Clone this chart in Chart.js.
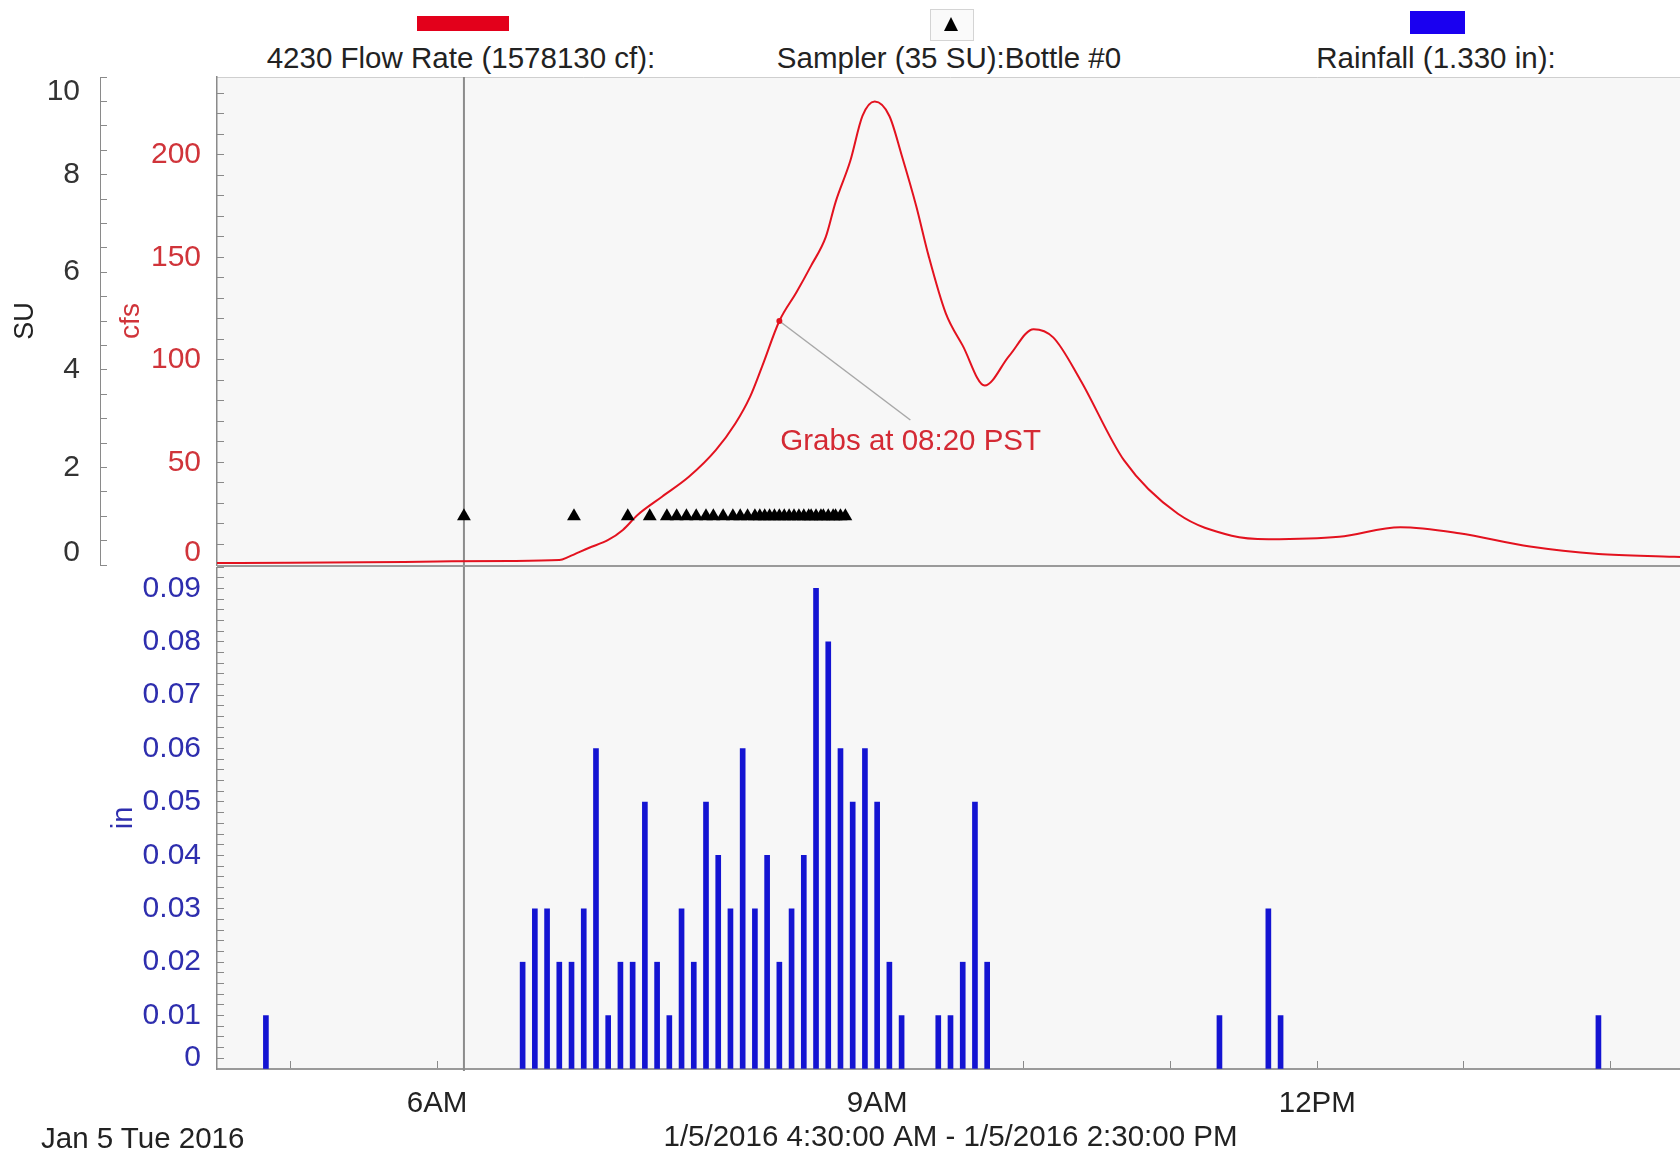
<!DOCTYPE html>
<html>
<head>
<meta charset="utf-8">
<script src="https://cdn.jsdelivr.net/npm/chart.js@4.4.1/dist/chart.umd.min.js"></script>
<style>
  html, body { margin:0; padding:0; background:#fff; width:1680px; height:1160px; overflow:hidden; }
  #wrap { position:relative; width:1680px; height:1160px; overflow:hidden; font-family:"Liberation Sans", Arial, Helvetica, sans-serif; color:#222; }
  canvas { position:absolute; left:0; }
  #topChart { top:0; }
  #botChart { top:567px; }
  .lgText { position:absolute; width:600px; text-align:center; font-size:29.5px; line-height:34px; top:41px; white-space:nowrap; }
  .swatch { position:absolute; }
  #dateLbl { position:absolute; left:41px; top:1121px; font-size:29.5px; line-height:34px; white-space:nowrap; }
  #sampBox { position:absolute; left:930px; top:9px; width:42px; height:30px; border:1px solid #d4d4d4; background:#fafafa; }
  #sampTri { position:absolute; left:13px; top:7px; width:0; height:0; border-left:7px solid transparent; border-right:7px solid transparent; border-bottom:14px solid #000; }
</style>
</head>
<body>
<div id="wrap">
  <div class="swatch" style="left:417px;top:16px;width:92px;height:15px;background:#e3001b;"></div>
  <div id="sampBox"><div id="sampTri"></div></div>
  <div class="swatch" style="left:1410px;top:11px;width:55px;height:23px;background:#1a00f0;"></div>
  <div class="lgText" id="lg0" style="left:161px;"></div>
  <div class="lgText" id="lg1" style="left:649px;"></div>
  <div class="lgText" id="lg2" style="left:1136px;"></div>
  <canvas id="topChart" width="1684" height="567"></canvas>
  <canvas id="botChart" width="1684" height="593"></canvas>
  <div id="dateLbl"></div>
</div>
<script>
// ---------------- data ----------------
const flowTimes = ['04:30','05:00','05:30','06:00','06:30','06:50','06:54','07:02','07:10','07:16',
                   '07:22','07:32','07:43','07:54','08:02','08:08','08:13','08:20','08:27','08:33',
                   '08:39','08:43','08:49','08:54','08:59','09:05','09:10','09:16','09:21','09:28',
                   '09:35','09:44','09:54','10:04','10:12','10:23','10:41','11:03','11:25','11:40',
                   '12:09','12:34','12:58','13:27','13:55','14:26','14:30'];
const flowCfs   = [1.0, 1.1, 1.3, 1.7, 2.0, 2.4, 4.1, 8.3, 12.2, 17.1,
                   24.4, 33.3, 43, 56, 69, 82, 97, 119, 133, 146,
                   160, 177, 197, 219, 226, 219, 200, 175, 151, 123,
                   107, 87.5, 102, 115, 111, 90.5, 51, 25, 14.3, 12.6,
                   13.8, 18.4, 15.5, 9, 5.4, 4, 3.8];

const sampleTimes = ['06:11','06:56','07:18','07:27','07:34','07:38','07:42','07:46','07:50','07:53',
                     '07:57','08:01','08:04','08:07','08:10','08:12','08:14','08:16','08:18','08:20',
                     '08:22','08:24','08:26','08:28','08:30','08:32','08:33','08:35','08:37','08:38',
                     '08:40','08:42','08:43','08:45','08:47'];
const sampleSU = [1,1,1,1,1,1,1,1,1,1, 1,1,1,1,1,1,1,1,1,1, 1,1,1,1,1,1,1,1,1,1, 1,1,1,1,1];

const rainTimes = ['04:50','06:35','06:40','06:45','06:50','06:55','07:00','07:05','07:10','07:15',
                   '07:20','07:25','07:30','07:35','07:40','07:45','07:50','07:55','08:00','08:05',
                   '08:10','08:15','08:20','08:25','08:30','08:35','08:40','08:45','08:50','08:55',
                   '09:00','09:05','09:10','09:25','09:30','09:35','09:40','09:45','11:20','11:40',
                   '11:45','13:55'];
const rainIn = [0.01,0.02,0.03,0.03,0.02,0.02,0.03,0.06,0.01,0.02,
                0.02,0.05,0.02,0.01,0.03,0.02,0.05,0.04,0.03,0.06,
                0.03,0.04,0.02,0.03,0.04,0.09,0.08,0.06,0.05,0.06,
                0.05,0.02,0.01,0.01,0.01,0.02,0.05,0.02,0.01,0.03,
                0.01,0.01];

const suLabels  = [0, 2, 4, 6, 8, 10];
const cfsLabels = [0, 50, 100, 150, 200];
const inLabels  = [0, 0.01, 0.02, 0.03, 0.04, 0.05, 0.06, 0.07, 0.08, 0.09];
const hourLabels = [6, 9, 12];
const hourText   = ['6AM', '9AM', '12PM'];

const cursorTime = '06:11';
const grabTime = '08:20';
const legendText = ['4230 Flow Rate (1578130 cf):', 'Sampler (35 SU):Bottle #0', 'Rainfall (1.330 in):'];
const dateText = 'Jan 5 Tue 2016';
const rangeText = '1/5/2016 4:30:00 AM - 1/5/2016 2:30:00 PM';

// ---------------- helpers ----------------
const toH = s => { const p = s.split(':').map(Number); return p[0] + p[1] / 60; };
function stepTicks(min, max, step) {
  const out = []; const n = Math.round((max - min) / step);
  for (let i = 0; i <= n; i++) out.push(+(min + i * step).toFixed(6));
  return out;
}
const near = (list, v) => list.find(t => Math.abs(t - v) < 1e-7);
function fixBox(w, h) {
  return s => {
    if (w !== null) s.width = w;
    if (h !== null) s.height = h;
    s.paddingTop = 0; s.paddingBottom = 0; s.paddingLeft = 0; s.paddingRight = 0;
  };
}

document.getElementById('lg0').textContent = legendText[0];
document.getElementById('lg1').textContent = legendText[1];
document.getElementById('lg2').textContent = legendText[2];
document.getElementById('dateLbl').textContent = dateText;

const FAM = '"Liberation Sans", Arial, Helvetica, sans-serif';
Chart.defaults.font.family = FAM;

const X_MIN = 4.5, X_MAX = 14.5;

const bgPlugin = {
  id: 'plotBg',
  beforeDraw(chart, args, o) {
    const { ctx, chartArea: a } = chart;
    ctx.save();
    ctx.fillStyle = '#f7f7f7';
    ctx.fillRect(a.left, a.top, a.right - a.left, a.bottom - a.top);
    if (o.topLine) {
      ctx.strokeStyle = '#cfcfcf'; ctx.lineWidth = 1;
      ctx.beginPath(); ctx.moveTo(a.left, a.top + 0.5); ctx.lineTo(a.right, a.top + 0.5); ctx.stroke();
    }
    ctx.restore();
  },
  afterDraw(chart, args, o) {
    if (!o.bottomLine) return;
    const { ctx, chartArea: a } = chart;
    ctx.save();
    ctx.strokeStyle = '#9a9a9a'; ctx.lineWidth = 2;
    ctx.beginPath(); ctx.moveTo(a.left, a.bottom + 1); ctx.lineTo(a.right, a.bottom + 1); ctx.stroke();
    ctx.restore();
  }
};

// nudges the end labels of a value axis inward, as the original software does
const edgeLabelPlugin = {
  id: 'edgeLabels',
  beforeDraw(chart, args, o) {
    (o.shifts || []).forEach(sh => {
      const sc = chart.scales[sh.scale];
      if (!sc) return;
      const items = sc.getLabelItems();
      const key = '_edge_' + sh.label;
      if (items[key]) return;
      items.forEach(it => {
        if (it.label === sh.label) it.options.translation[1] += sh.dy;
      });
      items[key] = true;
    });
  }
};

const cursorPlugin = {
  id: 'cursorLine',
  beforeDatasetsDraw(chart) {
    const { ctx, chartArea: a, scales } = chart;
    const x = scales.x.getPixelForValue(toH(cursorTime));
    ctx.save();
    ctx.strokeStyle = '#8c8c8c'; ctx.lineWidth = 2;
    ctx.beginPath(); ctx.moveTo(x, a.top); ctx.lineTo(x, a.bottom + 2); ctx.stroke();
    ctx.restore();
  }
};

const grabIdx = flowTimes.indexOf(grabTime);
const grabPlugin = {
  id: 'grabNote',
  afterDatasetsDraw(chart) {
    const p = chart.getDatasetMeta(0).data[grabIdx];
    if (!p) return;
    const { ctx } = chart;
    ctx.save();
    ctx.strokeStyle = '#a8a8a8'; ctx.lineWidth = 1.5;
    ctx.beginPath(); ctx.moveTo(p.x, p.y); ctx.lineTo(p.x + 131, p.y + 99); ctx.stroke();
    ctx.fillStyle = '#e3121f';
    ctx.beginPath(); ctx.arc(p.x, p.y, 3, 0, Math.PI * 2); ctx.fill();
    ctx.fillStyle = '#d42a34';
    ctx.font = '29.5px ' + FAM;
    ctx.textAlign = 'left'; ctx.textBaseline = 'middle';
    ctx.fillText('Grabs at ' + grabTime + ' PST', p.x + 1, p.y + 121);
    ctx.restore();
  }
};

// ---------------- top chart (flow + sampler) ----------------
new Chart(document.getElementById('topChart'), {
  type: 'line',
  data: {
    datasets: [
      {
        label: legendText[0],
        data: flowTimes.map((t, i) => ({ x: toH(t), y: flowCfs[i] })),
        yAxisID: 'cfs',
        borderColor: '#e3121f',
        borderWidth: 2,
        pointRadius: 0,
        cubicInterpolationMode: 'monotone',
        fill: false,
        order: 2
      },
      {
        label: legendText[1],
        data: sampleTimes.map((t, i) => ({ x: toH(t), y: sampleSU[i] })),
        yAxisID: 'su',
        showLine: false,
        pointStyle: 'triangle',
        pointRadius: 8,
        pointBackgroundColor: '#000',
        pointBorderColor: '#000',
        pointBorderWidth: 0,
        order: 1
      }
    ]
  },
  options: {
    responsive: false, animation: false, devicePixelRatio: 1,
    layout: { autoPadding: false, padding: { top: 77, bottom: 2, left: 0, right: 0 } },
    plugins: {
      legend: { display: false }, tooltip: { enabled: false },
      plotBg: { topLine: true, bottomLine: true },
      edgeLabels: { shifts: [ { scale: 'su', label: '0', dy: -12 }, { scale: 'su', label: '10', dy: 15 },
                              { scale: 'cfs', label: '0', dy: -12 } ] }
    },
    scales: {
      x: { type: 'linear', min: X_MIN, max: X_MAX, display: false, offset: false },
      su: {
        type: 'linear', position: 'left', weight: 2, min: 0, max: 10,
        afterBuildTicks: s => { s.ticks = stepTicks(0, 10, 0.5).map(v => ({ value: v })); },
        afterFit: fixBox(100, null),
        ticks: {
          autoSkip: false, padding: 27, color: '#333', font: { size: 30 },
          callback: v => { const m = near(suLabels, v); return m === undefined ? '' : String(m); }
        },
        grid: { drawOnChartArea: false, drawTicks: true, tickLength: -7, tickColor: '#8a8a8a', tickWidth: 1 },
        border: { display: true, color: '#8a8a8a', width: 1 },
        title: { display: true, text: 'SU', color: '#222', font: { size: 27 }, padding: { top: 9, bottom: 0 } }
      },
      cfs: {
        type: 'linear', position: 'left', weight: 1, min: 0, max: 238,
        afterBuildTicks: s => { s.ticks = stepTicks(0, 230, 10).map(v => ({ value: v })); },
        afterFit: fixBox(117, null),
        ticks: {
          autoSkip: false, padding: 23, color: '#d0343a', font: { size: 30 },
          callback: v => { const m = near(cfsLabels, v); return m === undefined ? '' : String(m); }
        },
        grid: { drawOnChartArea: false, drawTicks: true, tickLength: -7, tickColor: '#8a8a8a', tickWidth: 1 },
        border: { display: true, color: '#8a8a8a', width: 1.5 },
        title: { display: true, text: 'cfs', color: '#d0343a', font: { size: 28 }, padding: { top: 14, bottom: 0 } }
      }
    }
  },
  plugins: [bgPlugin, edgeLabelPlugin, cursorPlugin, grabPlugin]
});

// ---------------- bottom chart (rainfall) ----------------
new Chart(document.getElementById('botChart'), {
  type: 'bar',
  data: {
    datasets: [{
      label: legendText[2],
      data: rainTimes.map((t, i) => ({ x: toH(t), y: rainIn[i] })),
      backgroundColor: '#1414d2',
      borderWidth: 0,
      barThickness: 5,
      grouped: false
    }]
  },
  options: {
    responsive: false, animation: false, devicePixelRatio: 1,
    layout: { autoPadding: false, padding: { top: 0, bottom: 0, left: 0, right: 0 } },
    plugins: {
      legend: { display: false }, tooltip: { enabled: false },
      plotBg: { topLine: false, bottomLine: false },
      edgeLabels: { shifts: [ { scale: 'y', label: '0', dy: -11 } ] }
    },
    scales: {
      x: {
        type: 'linear', min: X_MIN, max: X_MAX, offset: false,
        afterBuildTicks: s => { s.ticks = stepTicks(5, 14, 1).map(v => ({ value: v })); },
        afterFit: fixBox(null, 91),
        ticks: {
          autoSkip: false, maxRotation: 0, minRotation: 0, padding: 25, color: '#222', font: { size: 29.5 },
          callback: v => { const k = hourLabels.findIndex(h => Math.abs(h - v) < 1e-7); return k < 0 ? '' : hourText[k]; }
        },
        grid: { drawOnChartArea: false, offset: false, drawTicks: true, tickLength: -8, tickColor: '#8a8a8a', tickWidth: 1 },
        border: { display: true, color: '#9a9a9a', width: 2 },
        title: { display: true, text: rangeText, color: '#222', font: { size: 29.5 }, padding: { top: 0, bottom: 4 } }
      },
      y: {
        type: 'linear', position: 'left', min: 0, max: 0.094,
        afterBuildTicks: s => { s.ticks = stepTicks(0, 0.094, 0.002).map(v => ({ value: v })); },
        afterFit: fixBox(217, null),
        ticks: {
          autoSkip: false, padding: 23, color: '#2e2eae', font: { size: 30 },
          callback: v => { const m = near(inLabels, v); return m === undefined ? '' : (m === 0 ? '0' : m.toFixed(2)); }
        },
        grid: { drawOnChartArea: false, drawTicks: true, tickLength: -7, tickColor: '#8a8a8a', tickWidth: 1 },
        border: { display: true, color: '#8a8a8a', width: 1.5 },
        title: { display: true, text: 'in', color: '#2e2eae', font: { size: 29 }, padding: { top: 107, bottom: 0 } }
      }
    }
  },
  plugins: [bgPlugin, edgeLabelPlugin, cursorPlugin]
});
</script>
</body>
</html>
